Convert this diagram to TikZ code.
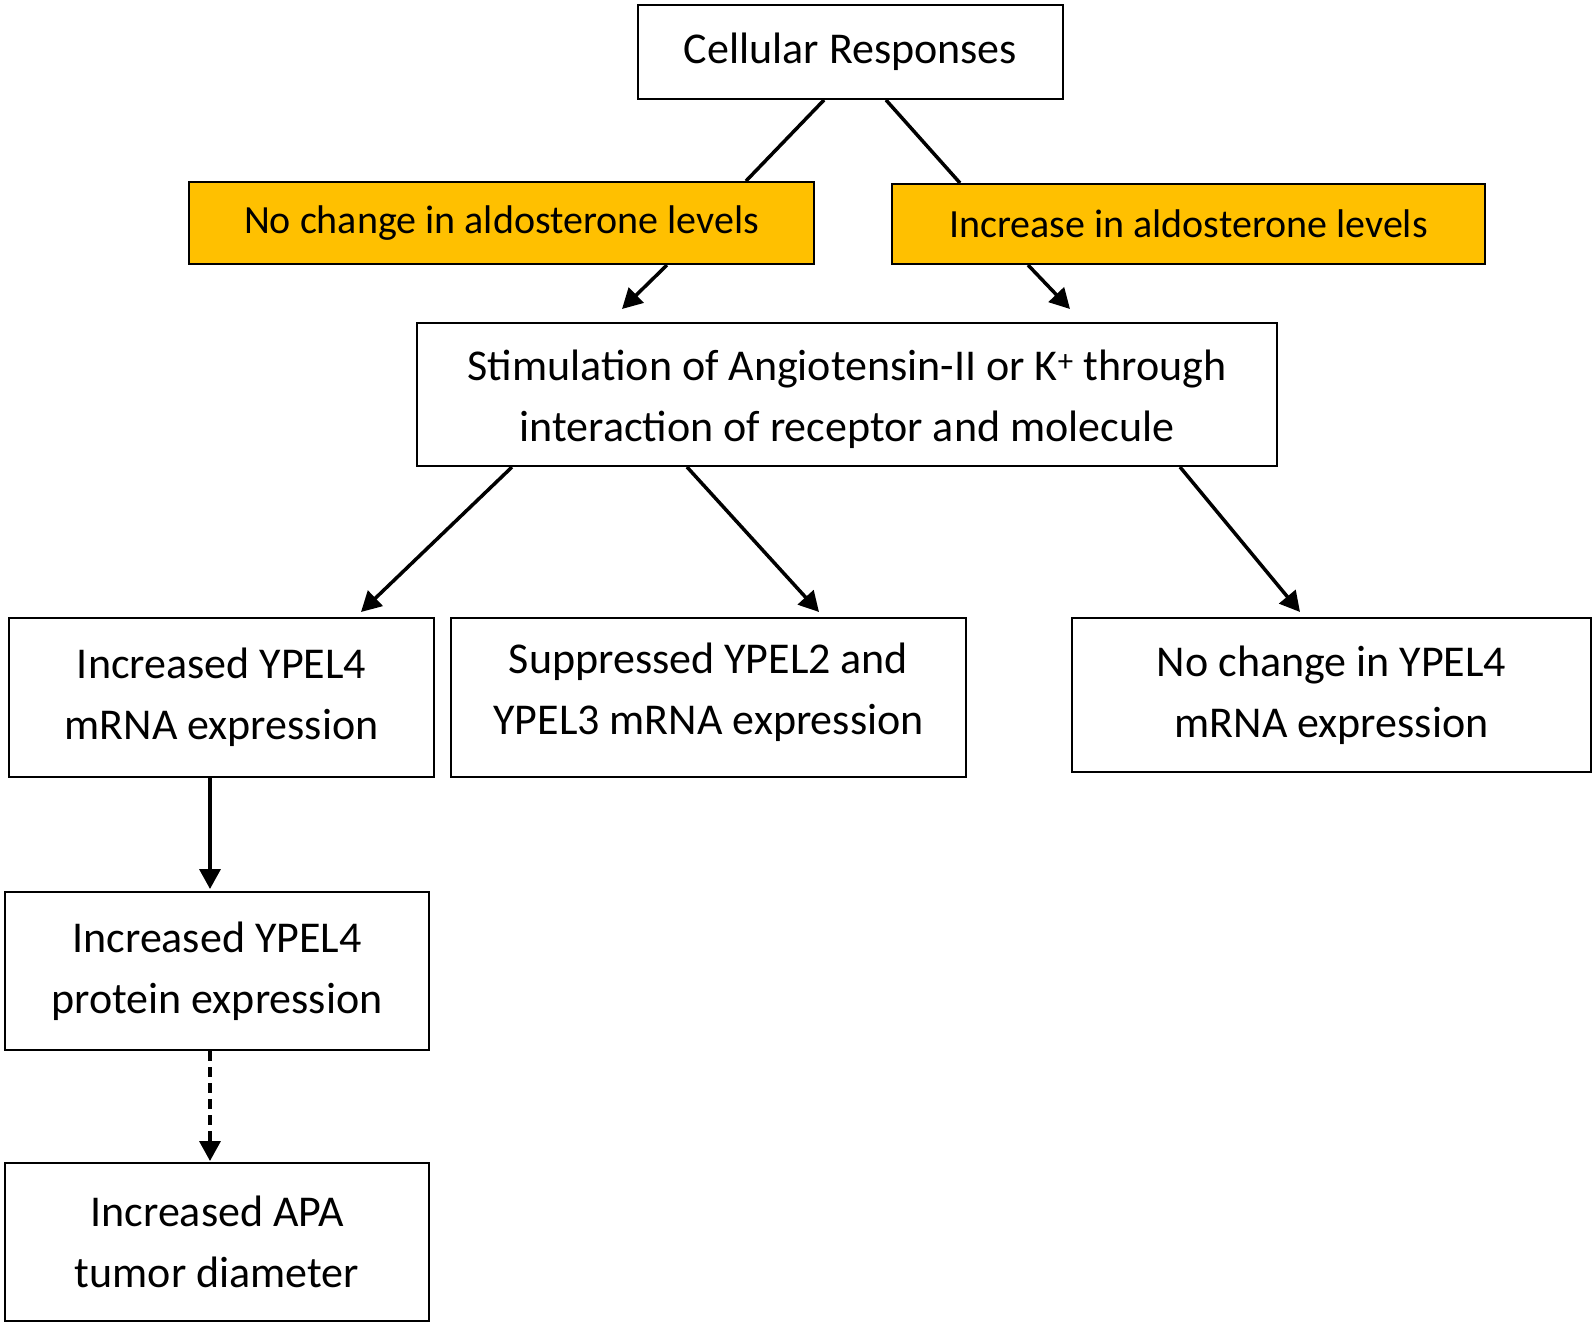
\documentclass[tikz,border=0pt]{standalone}
\usepackage{fontspec}
\setmainfont{Carlito}
\usetikzlibrary{arrows.meta}
\definecolor{gold}{HTML}{FFC000}
\tikzset{
  box/.style={draw=black, line width=2pt, fill=white, inner sep=0pt, align=center,
    font=\fontsize{44}{61}\selectfont},
  ybox/.style={box, fill=gold, font=\fontsize{40}{50}\selectfont},
  txt/.style={inner sep=0pt, align=center, font=\fontsize{44}{61}\selectfont},
  conn/.style={line width=3.5pt, draw=black},
  arr/.style={conn, -{Triangle[length=20pt,width=21pt]}},
}
\begin{document}
\begin{tikzpicture}[x=1pt,y=-1pt]
\useasboundingbox[fill=white] (0,0) rectangle (1595,1326);
\node[box, minimum width=425pt, minimum height=94pt] (cr) at (850.5,52) {Cellular Responses};
\node[ybox, minimum width=625pt, minimum height=82pt] (ly) at (501.5,223) {\raisebox{-2pt}{No change in aldosterone levels}};
\node[ybox, minimum width=593pt, minimum height=80pt] (ry) at (1188.5,224) {Increase in aldosterone levels};
\node[box, minimum width=860pt, minimum height=143pt] (st) at (847,394.5) {};
\node[txt] (stt) at ([yshift=-5pt]st.center) {Stimulation of Angiotensin-II or K\textsuperscript{+} through\\interaction of receptor and molecule};
\node[box, minimum width=425pt, minimum height=159pt] (m1) at (221.5,697.5) {Increased YPEL4\\mRNA expression};
\node[box, minimum width=515pt, minimum height=159pt] (m2) at (708.5,697.5) {};
\node[txt] (m2t) at ([yshift=5pt]m2.center) {Suppressed YPEL2 and\\YPEL3 mRNA expression};
\node[box, minimum width=519pt, minimum height=154pt] (m3) at (1331.5,695) {No change in YPEL4\\mRNA expression};
\node[box, minimum width=424pt, minimum height=158pt] (p1) at (217,971) {Increased YPEL4\\protein expression};
\node[box, minimum width=424pt, minimum height=158pt] (ap) at (217,1242) {Increased APA\\tumor diameter};

\draw[conn] ([xshift=-26.5pt]cr.south) -- ([xshift=244.5pt]ly.north);
\draw[conn] ([xshift=35.5pt]cr.south) -- ([xshift=-228.5pt]ry.north);
\draw[arr] ([xshift=165.5pt]ly.south) -- ([xshift=-225pt,yshift=13pt]st.north);
\draw[arr] ([xshift=-160.5pt]ry.south) -- ([xshift=223pt,yshift=13pt]st.north);
\draw[arr] ([xshift=-335pt]st.south) -- ([xshift=139.5pt,yshift=5pt]m1.north);
\draw[arr] ([xshift=-160pt]st.south) -- ([xshift=110.5pt,yshift=5pt]m2.north);
\draw[arr] ([xshift=333pt]st.south) -- ([xshift=-31.5pt,yshift=5pt]m3.north);
\coordinate (a1) at ([xshift=-11.5pt]m1.south);
\coordinate (a2) at ([xshift=-7pt]p1.south);
\draw[arr] (a1) -- ([yshift=2pt]a1 |- p1.north);
\draw[arr, dash pattern=on 10pt off 6pt] (a2) -- ([yshift=1pt]a2 |- ap.north);
\end{tikzpicture}
\end{document}
